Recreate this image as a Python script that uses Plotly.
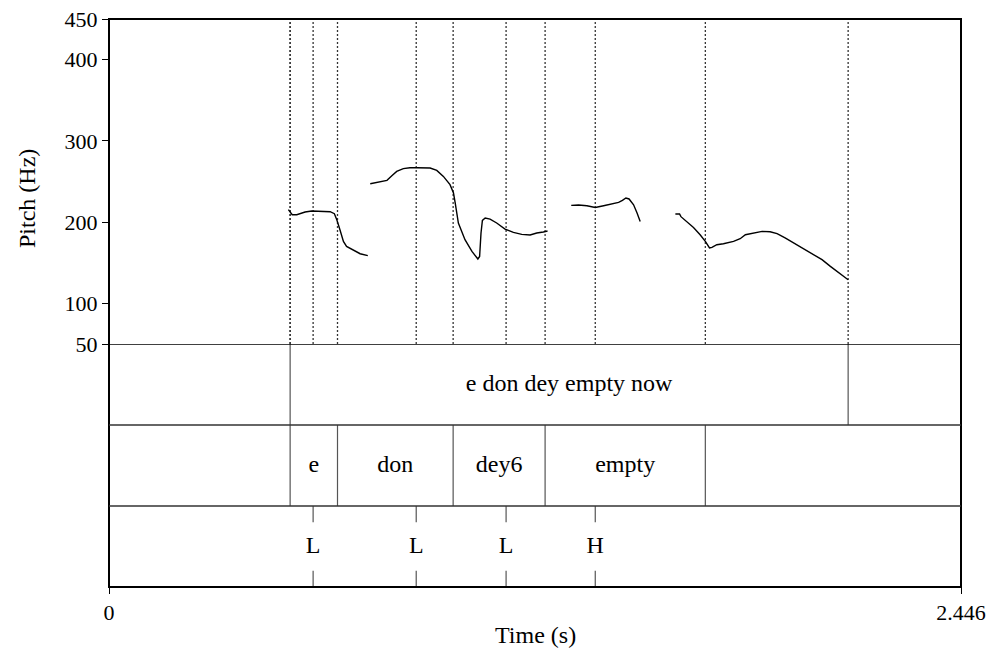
import plotly.graph_objects as go

# ---------------- data ----------------
# pitch contour (s, Hz); None separates voiced stretches
pitch_t = [0.515, 0.526, 0.539, 0.563, 0.582, 0.601, 0.635, 0.647, 0.654, 0.663, 0.673, 0.682, 0.702, 0.721, 0.743,
           None,
           0.750, 0.773, 0.798, 0.812, 0.826, 0.845, 0.864, 0.884, 0.922, 0.941, 0.960, 0.979, 0.989, 0.994, 1.003,
           1.022, 1.042, 1.059, 1.064, 1.068, 1.072, 1.080, 1.094, 1.113, 1.137, 1.161, 1.185, 1.209, 1.228, 1.247, 1.259,
           None,
           1.327, 1.348, 1.372, 1.396, 1.420, 1.439, 1.463, 1.474, 1.484, 1.493, 1.506, 1.516, 1.525,
           None,
           1.626, 1.638, 1.642, 1.659, 1.678, 1.697, 1.712, 1.724, 1.731, 1.745, 1.764, 1.793, 1.812, 1.827, 1.836,
           1.850, 1.875, 1.898, 1.918, 1.941, 1.970, 1.999, 2.023, 2.047, 2.071, 2.095, 2.112, 2.122]
pitch_hz = [215.3, 209.1, 209.1, 212.5, 213.7, 213.2, 212.8, 210.4, 203.0, 190.7, 176.3, 170.1, 165.2, 161.1, 158.7,
            None,
            247.3, 248.9, 251.4, 257.1, 262.4, 265.8, 267.0, 267.0, 266.6, 263.7, 256.3, 246.1, 235.8, 223.5, 198.9,
            178.4, 164.0, 154.6, 157.8, 186.6, 202.1, 205.1, 203.8, 198.9, 191.5, 187.4, 184.9, 184.2, 186.6, 187.8, 189.1,
            None,
            220.6, 221.1, 220.2, 218.1, 220.2, 222.3, 224.3, 226.7, 229.7, 228.5, 221.4, 211.2, 200.9,
            None,
            210.0, 210.0, 206.7, 200.9, 193.5, 184.5, 176.3, 168.2, 168.9, 172.2, 173.4, 176.3, 179.6, 184.5, 185.4,
            186.6, 188.6, 188.2, 185.8, 180.5, 173.4, 166.1, 159.9, 153.8, 145.5, 137.4, 132.5, 129.1]

t_max = 2.446
pitch_ticks = [50, 100, 200, 300, 400, 450]

# tier 1 (phrase) intervals
phrase_starts = [0.0, 0.520, 2.122]
phrase_ends = [0.520, 2.122, 2.446]
phrase_labels = ["", "e don dey empty now", ""]

# tier 2 (words) intervals
word_starts = [0.0, 0.520, 0.656, 0.988, 1.252, 1.712]
word_ends = [0.520, 0.656, 0.988, 1.252, 1.712, 2.446]
word_labels = ["", "e", "don", "dey6", "empty", ""]

# tier 3 (tones) points
tone_times = [0.586, 0.882, 1.140, 1.396]
tone_labels = ["L", "L", "L", "H"]

# ---------------- figure ----------------
FONT = "Liberation Serif, Times New Roman, Times, serif"
FS_TICK = 22
FS_TEXT = 24
ML, MR, MT, MB = 109, 30, 19, 66
W, H = 991, 653
plot_h = H - MT - MB
n_tiers = 3
tier_px = 81
tier_frac = n_tiers * tier_px / plot_h

fig = go.Figure()

# dotted lines at every boundary/point in pitch panel
bounds = phrase_starts[1:] + word_starts[1:] + tone_times
dx, dy = [], []
for b in bounds:
    dx += [b, b, None]
    dy += [pitch_ticks[0], pitch_ticks[-1], None]
fig.add_trace(go.Scatter(x=dx, y=dy, mode="lines", xaxis="x", yaxis="y",
                         line=dict(color="#333333", width=1.3, dash="2px,2px"),
                         hoverinfo="skip", showlegend=False))

# pitch contour
fig.add_trace(go.Scatter(x=pitch_t, y=pitch_hz, mode="lines", xaxis="x", yaxis="y",
                         line=dict(color="black", width=1.4), connectgaps=False,
                         showlegend=False))

# tier boundaries (vertical lines)
vx, vy = [], []
for b in phrase_starts[1:]:
    vx += [b, b, None]
    vy += [2, 3, None]
for b in word_starts[1:]:
    vx += [b, b, None]
    vy += [1, 2, None]
fig.add_trace(go.Scatter(x=vx, y=vy, mode="lines", xaxis="x", yaxis="y2",
                         line=dict(color="#555555", width=1.2),
                         hoverinfo="skip", showlegend=False))

# point tier ticks
px_, py_ = [], []
for t in tone_times:
    px_ += [t, t, None, t, t, None]
    py_ += [1.0, 0.8, None, 0.2, 0.0, None]
fig.add_trace(go.Scatter(x=px_, y=py_, mode="lines", xaxis="x", yaxis="y2",
                         line=dict(color="#555555", width=1.2),
                         hoverinfo="skip", showlegend=False))

# tier texts
tx, ty, tt = [], [], []
for s, e, lab in zip(phrase_starts, phrase_ends, phrase_labels):
    if lab:
        tx.append((s + e) / 2); ty.append(2.5); tt.append(lab)
for s, e, lab in zip(word_starts, word_ends, word_labels):
    if lab:
        tx.append((s + e) / 2); ty.append(1.5); tt.append(lab)
for t, lab in zip(tone_times, tone_labels):
    tx.append(t); ty.append(0.5); tt.append(lab)
fig.add_trace(go.Scatter(x=tx, y=ty, text=tt, mode="text", xaxis="x", yaxis="y2",
                         textfont=dict(family=FONT, size=FS_TEXT, color="black"),
                         textposition="middle center", hoverinfo="skip", showlegend=False))

shapes = [
    # outer frame
    dict(type="rect", xref="paper", yref="paper", x0=0, x1=1, y0=0, y1=1,
         line=dict(color="black", width=2)),
    # line between pitch and tiers
    dict(type="line", xref="paper", yref="y2", x0=0, x1=1, y0=3, y1=3,
         line=dict(color="black", width=1.5)),
]
for k in range(1, n_tiers):
    shapes.append(dict(type="line", xref="paper", yref="y2", x0=0, x1=1, y0=k, y1=k,
                       line=dict(color="#333333", width=1.6)))

fig.update_layout(
    width=W, height=H,
    margin=dict(l=ML, r=MR, t=MT, b=MB, pad=0, autoexpand=False),
    paper_bgcolor="white", plot_bgcolor="white",
    font=dict(family=FONT, size=FS_TICK, color="black"),
    showlegend=False,
    shapes=shapes,
    xaxis=dict(range=[0, t_max], anchor="y2", tickvals=[0, t_max], ticktext=["0", "2.446"],
               ticks="outside", ticklen=6, tickwidth=1.2, tickcolor="black",
               showgrid=False, zeroline=False, showline=False, automargin=False,
               tickfont=dict(family=FONT, size=FS_TICK)),
    yaxis=dict(domain=[tier_frac, 1], range=[pitch_ticks[0], pitch_ticks[-1]], anchor="x",
               tickvals=pitch_ticks, ticks="outside", ticklen=6, tickwidth=1.2, tickcolor="black",
               showgrid=False, zeroline=False, showline=False, automargin=False,
               tickfont=dict(family=FONT, size=FS_TICK)),
    yaxis2=dict(domain=[0, tier_frac], range=[0, n_tiers], anchor="x", automargin=False,
                showticklabels=False, ticks="", showgrid=False, zeroline=False, showline=False),
    annotations=[
        dict(text="Pitch (Hz)", xref="paper", yref="paper", x=(27 - ML) / (W - ML - MR),
             y=(H - MB - 199) / plot_h, textangle=-90, showarrow=False,
             font=dict(family=FONT, size=FS_TEXT), xanchor="center", yanchor="middle"),
        dict(text="Time (s)", xref="paper", yref="paper", x=0.5,
             y=(H - MB - 635) / plot_h, showarrow=False,
             font=dict(family=FONT, size=FS_TEXT), xanchor="center", yanchor="middle"),
    ],
)

fig.write_html("out.html")
